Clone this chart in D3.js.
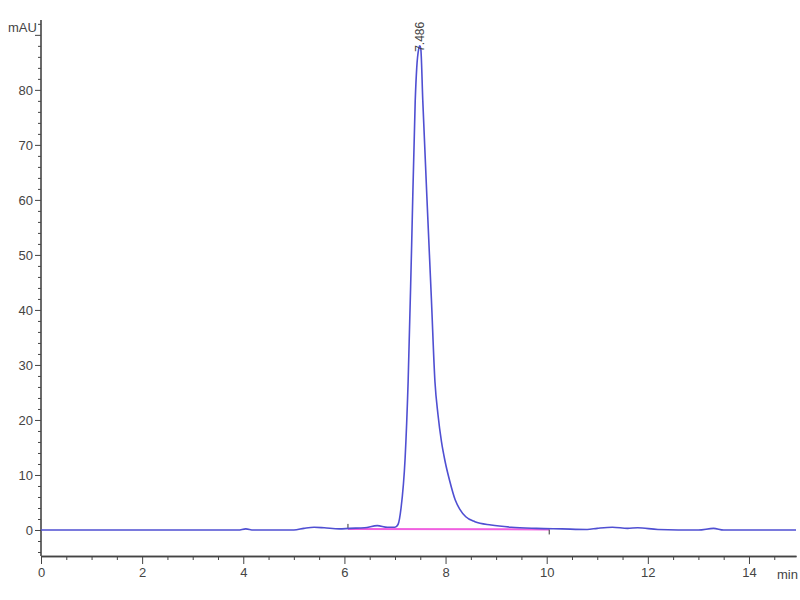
<!DOCTYPE html>
<html>
<head>
<meta charset="utf-8">
<script src="https://cdn.jsdelivr.net/npm/d3@7"></script>
<style>
  body { margin: 0; background: #fff; }
  svg { display: block; }
  .axis text { font-family: "Liberation Sans", Arial, sans-serif; font-size: 13px; fill: #444; }
  .axis path, .axis line { stroke: #444; }
</style>
</head>
<body>
<svg id="chart" width="800" height="600"></svg>
<script>
// signal trace (min / mAU)
var times  = [0, 1, 2, 3, 3.9, 4.05, 4.2, 5.0, 5.2, 5.4, 5.6, 5.9, 6.1, 6.4, 6.65, 6.85, 7.0, 7.06, 7.12, 7.2, 7.26, 7.33, 7.40, 7.43, 7.47, 7.49, 7.51, 7.55, 7.65, 7.72, 7.79, 7.85, 7.92, 7.99, 8.08, 8.19, 8.28, 8.4, 8.58, 8.9, 9.3, 9.8, 10.3, 10.8, 11.0, 11.3, 11.6, 11.8, 12.2, 13.0, 13.3, 13.5, 14.0, 14.93];
var signal = [0, 0, 0, 0, 0, 0.2, 0, 0, 0.3, 0.5, 0.4, 0.2, 0.3, 0.4, 0.8, 0.5, 0.5, 1.0, 4, 13, 27, 52, 78, 84, 87.5, 88, 87.5, 78, 56.5, 42, 27, 21, 16, 12.5, 9, 5.5, 3.8, 2.4, 1.5, 0.9, 0.5, 0.3, 0.2, 0.1, 0.3, 0.5, 0.3, 0.4, 0.1, 0, 0.3, 0, 0, 0];

// integration baseline start / end
var baseTimes  = [6.07, 10.05];
var baseValues = [0.2, 0.1];

var peakTime = 7.486;
var peakHeight = 88;
var peakLabel = "7.486";

var xMajor = [0, 2, 4, 6, 8, 10, 12, 14];
var yMajor = [0, 10, 20, 30, 40, 50, 60, 70, 80];

var svg = d3.select("#chart");

var x = d3.scaleLinear().domain([0, 14.93]).range([41, 796]);
var y = d3.scaleLinear().domain([-4.6, 92.7]).range([555.3, 20]);
var axisY = 556;

var xMinor = d3.range(0, 15, 0.5).filter(function(t) { return t % 2 !== 0; });
var yMinor = d3.range(-4, 93, 2).filter(function(v) { return v % 10 !== 0; });

var label = function(sel) {
  return sel.style("font-family", "Liberation Sans, Arial, sans-serif")
            .style("font-size", "13px").style("fill", "#444");
};

// x axis
var gx = svg.append("g").attr("transform", "translate(0," + axisY + ")");
gx.append("g").attr("class", "axis")
  .call(d3.axisBottom(x).tickValues(xMinor).tickSize(4).tickSizeOuter(0).tickFormat(""));
var gxMaj = gx.append("g").attr("class", "axis")
  .call(d3.axisBottom(x).tickValues(xMajor).tickSize(8).tickSizeOuter(0).tickFormat(d3.format("d")));
gx.selectAll("path").attr("stroke-width", 1.6);
gxMaj.selectAll("text").attr("y", 12);

// y axis
var gy = svg.append("g").attr("transform", "translate(" + x(0) + ",0)");
gy.append("g").attr("class", "axis")
  .call(d3.axisLeft(y).tickValues(yMinor).tickSize(3).tickSizeOuter(0).tickFormat(""));
var gyMaj = gy.append("g").attr("class", "axis")
  .call(d3.axisLeft(y).tickValues(yMajor.concat([90])).tickSize(6).tickSizeOuter(0)
    .tickFormat(function(d) { return d === 90 ? "" : d; }));
gy.selectAll("path").remove();
gy.append("line").attr("x1", 0).attr("x2", 0).attr("y1", 20).attr("y2", axisY)
  .attr("stroke", "#444").attr("stroke-width", 1.6);
gyMaj.selectAll("text").attr("x", -8);

svg.append("text").attr("x", 8).attr("y", 32).call(label).text("mAU");
svg.append("text").attr("x", 777).attr("y", 579).call(label).text("min");

// integration baseline
var line = d3.line().x(function(d) { return x(d[0]); }).y(function(d) { return y(d[1]); });
svg.append("path")
  .datum(d3.zip(baseTimes, baseValues))
  .attr("d", line)
  .attr("fill", "none")
  .attr("stroke", "#f060e0")
  .attr("stroke-width", 2);
svg.append("line")
  .attr("x1", x(baseTimes[0])).attr("x2", x(baseTimes[0]))
  .attr("y1", y(baseValues[0]) - 5).attr("y2", y(baseValues[0]))
  .attr("stroke", "#333").attr("stroke-width", 1);
svg.append("line")
  .attr("x1", x(baseTimes[1])).attr("x2", x(baseTimes[1]))
  .attr("y1", y(baseValues[1])).attr("y2", y(baseValues[1]) + 5)
  .attr("stroke", "#333").attr("stroke-width", 1);

// signal trace
var trace = d3.line()
  .x(function(d) { return x(d[0]); })
  .y(function(d) { return y(d[1]); })
  .curve(d3.curveMonotoneX);
svg.append("path")
  .datum(d3.zip(times, signal))
  .attr("d", trace)
  .attr("fill", "none")
  .attr("stroke", "#4f4fd2")
  .attr("stroke-width", 1.6);

// peak label
svg.append("text")
  .attr("transform", "translate(" + (x(peakTime) + 4) + "," + (y(peakHeight) + 6) + ") rotate(-90)")
  .style("font-family", "Liberation Sans, Arial, sans-serif")
  .style("font-size", "12px").style("fill", "#444")
  .text(peakLabel);
</script>
</body>
</html>
